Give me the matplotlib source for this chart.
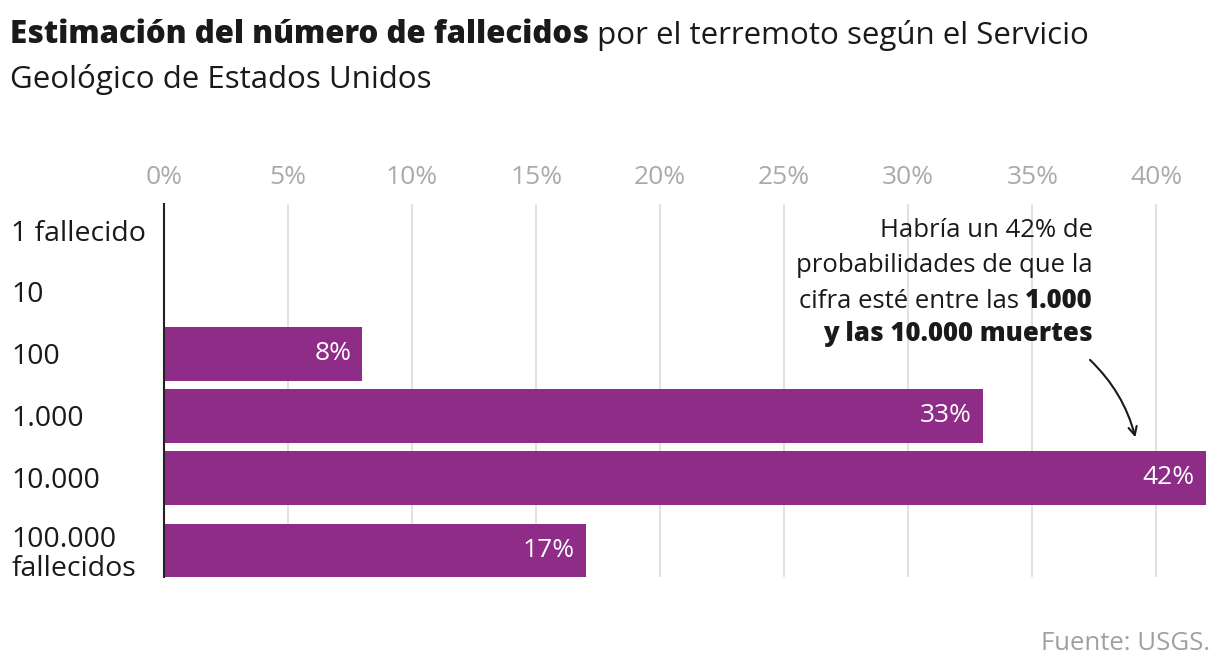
import numpy as np
import matplotlib.pyplot as plt

plt.rcParams['font.family'] = ['Open Sans', 'DejaVu Sans']

categories = ['1 fallecido', '10', '100', '1.000', '10.000', '100.000\nfallecidos']
values = [0, 0, 8, 33, 42, 17]
xticks = [0, 5, 10, 15, 20, 25, 30, 35, 40]
xticklabels = ['%d%%' % t for t in xticks]

purple = '#8E2C88'
W, H = 1220, 670

fig = plt.figure(figsize=(W / 100, H / 100), dpi=100)
ax = fig.add_axes([164 / W, 1 - 577 / H, (1206 - 164) / W, (577 - 204) / H])

ypos = np.arange(len(categories), dtype=float)
ypos[-1] += 0.17  # two-line label gets a little more room

bars = ax.barh(ypos, values, height=0.86, color=purple, zorder=3)
for y, v in zip(ypos, values):
    if v > 0:
        ax.annotate('%d%%' % v, (v, y), xytext=(-8, 0), textcoords='offset points',
                    ha='right', va='center', color='white', fontsize=19, zorder=4)

ax.set_xlim(0, 42)
ax.set_ylim(5.60, -0.42)
ax.xaxis.tick_top()
ax.set_xticks(xticks, xticklabels)
ax.tick_params(axis='x', length=0, pad=10, labelsize=19, labelcolor='#aaaaaa')
ax.set_yticks(ypos, categories)
ax.tick_params(axis='y', length=0, pad=110, labelsize=20.5, labelcolor='#1a1a1a')
for lab in ax.get_yticklabels():
    lab.set_ha('left')
    lab.set_linespacing(1.05)
ax.grid(axis='x', color='#e2e2e2', linewidth=1.5, zorder=0)
for s in ['top', 'right', 'bottom']:
    ax.spines[s].set_visible(False)
ax.spines['left'].set_color('#222222')
ax.spines['left'].set_linewidth(1.5)
ax.spines['left'].set_zorder(5)

# title: bold part followed by regular text
t1 = fig.text(10 / W, 1 - 51 / H, 'Estimación del número de fallecidos', fontsize=22.5,
              fontweight='heavy', color='#1a1a1a', va='bottom')
ax.annotate(' por el terremoto según el Servicio', xy=(1, 0), xycoords=t1,
            fontsize=22.5, color='#1a1a1a', va='bottom', ha='left')
fig.text(10 / W, 1 - 88 / H, 'Geológico de Estados Unidos', fontsize=22.5,
         color='#1a1a1a', va='baseline')

# annotation
ax_x = 1093 / W
fig.text(ax_x, 1 - 237 / H, 'Habría un 42% de', fontsize=18.5, ha='right', va='baseline', color='#1a1a1a')
fig.text(ax_x, 1 - 272 / H, 'probabilidades de que la', fontsize=18.5, ha='right', va='baseline', color='#1a1a1a')
b3 = fig.text(ax_x, 1 - 308 / H, '1.000', fontsize=18.5, fontweight='heavy', ha='right', va='baseline', color='#1a1a1a')
ax.annotate('cifra esté entre las ', xy=(0, 0), xycoords=b3, fontsize=18.5,
            ha='right', va='bottom', color='#1a1a1a')
fig.text(ax_x, 1 - 341 / H, 'y las 10.000 muertes', fontsize=18.5, fontweight='heavy', ha='right', va='baseline', color='#1a1a1a')

ax.annotate('', xy=(1136 / W, 1 - 440 / H), xycoords='figure fraction',
            xytext=(1088 / W, 1 - 358 / H), textcoords='figure fraction',
            arrowprops=dict(arrowstyle='->,head_length=0.6,head_width=0.3', color='#1a1a1a',
                            lw=1.5, connectionstyle='arc3,rad=-0.15'))

fig.text(1210 / W, 1 - 650 / H, 'Fuente: USGS.', fontsize=18.5, color='#a0a0a0', ha='right', va='baseline')

plt.savefig('out.png', dpi=100)
